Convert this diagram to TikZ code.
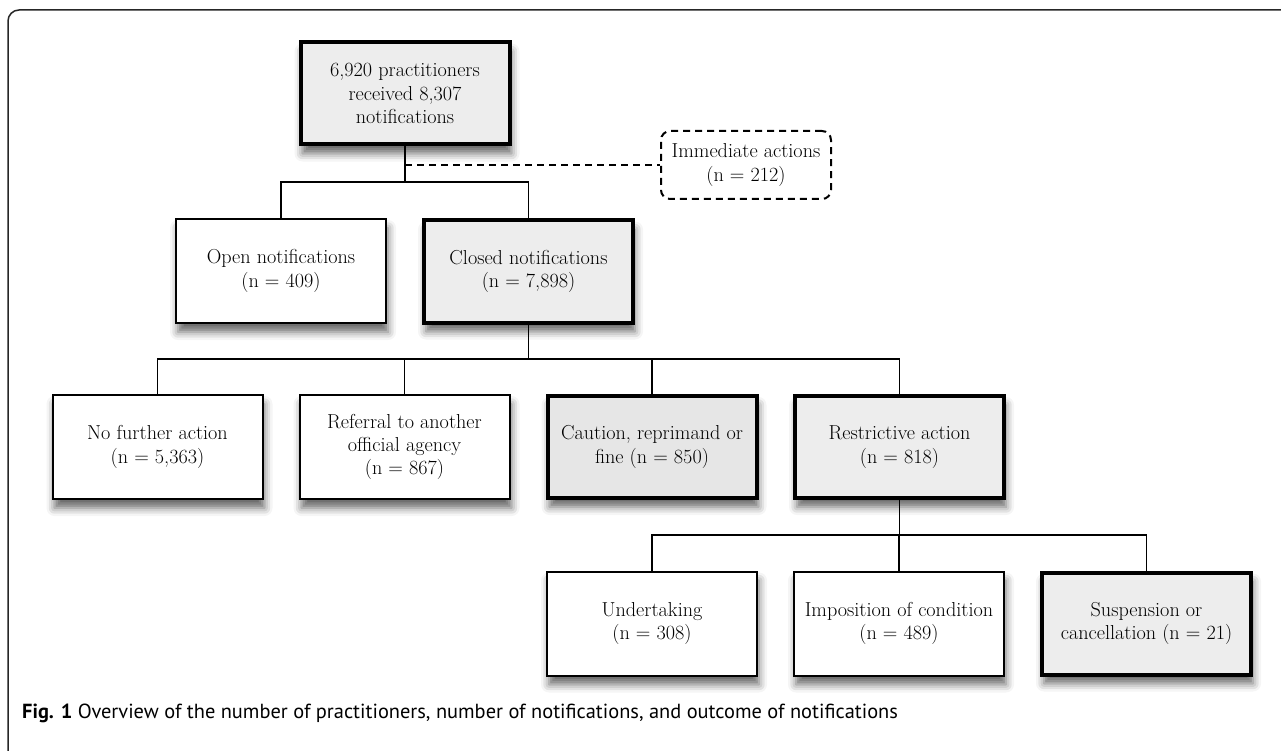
\documentclass[tikz,border=0pt]{standalone}
\usepackage{fontspec}
\newfontfamily\capfont{PT Sans}
\usetikzlibrary{shadows.blur}
\definecolor{boxgray}{HTML}{EDEDED}
\definecolor{cautgray}{HTML}{E6E6E6}
\begin{document}
\begin{tikzpicture}[x=1pt,y=-1pt,
  box/.style={draw=black, line width=2pt, fill=white, minimum width=210pt, minimum height=104pt,
    inner sep=0pt, align=center, font=\fontsize{20.2}{23.3}\selectfont,
    blur shadow={shadow xshift=2pt, shadow yshift=-9pt, shadow blur radius=8pt, shadow opacity=60}},
  bbox/.style={box, line width=4pt, fill=boxgray, minimum width=209pt, minimum height=102pt},
  dbox/.style={draw=black, line width=2pt, dash pattern=on 7pt off 5pt, rounded corners=9pt,
    fill=white, minimum width=170pt, minimum height=68pt, inner sep=0pt, align=center,
    font=\fontsize{20.2}{23.3}\selectfont},
  conn/.style={line width=1.6pt, draw=black},
  dconn/.style={line width=1.8pt, draw=black, dash pattern=on 7pt off 5pt}]
\useasboundingbox (0,0) rectangle (1281,751);
\clip (0,0) rectangle (1281,751);
% outer frame
\draw[line width=1.5pt, draw=black!85, rounded corners=11pt] (8,770) -- (8,10) -- (1300,10);

% nodes
\node[bbox] (top) at (405,93.5) {6,920 practitioners\\received 8,307\\notifications};
\node[dbox] (imm) at (746,165) {Immediate actions\\(n = 212)};
\node[box] (open) at (281,271) {Open notifications\\(n = 409)};
\node[bbox] (closed) at (528.5,271.5) {Closed notifications\\(n = 7,898)};
\node[box] (nfa) at (157.5,447) {No further action\\(n = 5,363)};
\node[box] (ref) at (404.5,447) {Referral to another\\official agency\\(n = 867)};
\node[bbox, fill=cautgray] (cau) at (652,447) {Caution, reprimand or\\fine (n = 850)};
\node[bbox] (res) at (899.5,447) {Restrictive action\\(n = 818)};
\node[box] (und) at (652,623.5) {Undertaking\\(n = 308)};
\node[box] (imp) at (899,623.5) {Imposition of condition\\(n = 489)};
\node[bbox] (sus) at (1146.5,623.5) {Suspension or\\cancellation (n = 21)};

% junctions
\coordinate (j1) at (405,182);
\coordinate (j2) at (528.5,359);
\coordinate (j3) at (899.5,535);

% connectors
\draw[conn] (top.south) -- (j1);
\draw[conn] (open.north) |- (j1) -| (closed.north);
\draw[dconn] (top.south |- imm.west) -- (imm.west);
\draw[conn] (closed.south) -- (j2);
\draw[conn] (nfa.north) |- (j2) -| (res.north);
\draw[conn] (ref.north) -- (ref.north |- j2);
\draw[conn] (cau.north) -- (cau.north |- j2);
\draw[conn] (res.south) -- (j3);
\draw[conn] (und.north) |- (j3) -| (sus.north);
\draw[conn] (imp.north) -- (imp.north |- j3);

% caption
\node[anchor=base west, inner sep=0pt, font=\capfont\fontsize{20.4}{22}\selectfont] (cap) at (22,718)
  {\textbf{Fig. 1} Overview of the number of practitioners, number of notifications, and outcome of notifications};
\end{tikzpicture}
\end{document}
